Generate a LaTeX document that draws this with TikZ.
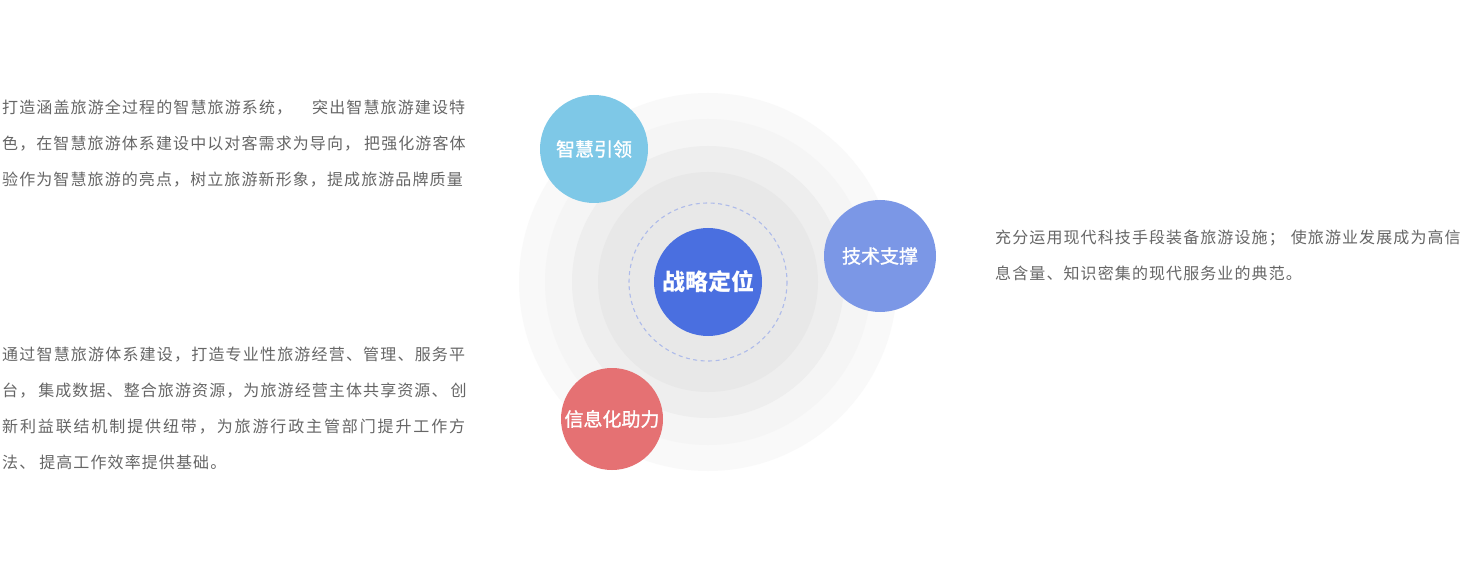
\documentclass[tikz,border=0pt]{standalone}
\usepackage{fontspec}
\newfontfamily\cjk{Noto Sans CJK SC}
\newfontfamily\cjkm[FakeBold=1.2]{Noto Sans CJK SC}
% inter-character glue for CJK text
\XeTeXinterchartokenstate=1
\newXeTeXintercharclass\cjkclass
\count255="4E00
\loop
  \XeTeXcharclass\count255=\cjkclass
  \ifnum\count255<"9FFF \advance\count255 by 1 \repeat
\XeTeXcharclass"FF0C=\cjkclass
\XeTeXcharclass"FF1B=\cjkclass
\XeTeXcharclass"3001=\cjkclass
\XeTeXcharclass"3002=\cjkclass
\newdimen\cjkgap
\cjkgap=0pt
\XeTeXinterchartoks\cjkclass\cjkclass={\hskip\cjkgap plus 1pt\relax}
\newcommand{\jline}[1]{\makebox[463pt][s]{#1}}
\newcommand{\setgap}[1]{\cjkgap=#1\relax}
\definecolor{txt}{HTML}{666666}
\definecolor{ring1}{HTML}{F9F9F9}
\definecolor{ring2}{HTML}{F5F5F5}
\definecolor{ring3}{HTML}{EEEEEE}
\definecolor{ring4}{HTML}{E8E8E8}
\definecolor{dashc}{HTML}{AEBBEA}
\definecolor{cmain}{HTML}{4A6FE0}
\definecolor{ccyan}{HTML}{7EC8E7}
\definecolor{cblue}{HTML}{7B97E6}
\definecolor{cred}{HTML}{E57173}
\tikzset{
  para/.style={anchor=north west, align=left, inner sep=0pt, text=txt,
    font={\cjk\fontsize{16}{36}\selectfont\setgap{1.1pt}}},
  bubble/.style={circle, inner sep=0pt, text=white, draw=none},
  sat/.style={bubble, font={\cjkm\fontsize{19}{19}\selectfont\setgap{0pt}}},
}
\begin{document}
\begin{tikzpicture}[x=1pt,y=-1pt]
\useasboundingbox[fill=white] (0,0) rectangle (1460,564);
% rings
\fill[ring1] (708,282) circle (189);
\fill[ring2] (708,282) circle (163);
\fill[ring3] (708,282) circle (136);
\fill[ring4] (708,282) circle (110);
\draw[dashc, line width=1.1pt, dash pattern=on 4pt off 3.5pt] (708,282) circle (79);
% bubbles
\node[bubble, fill=cmain, minimum size=108pt, font={\cjk\bfseries\fontsize{23}{23}\selectfont\setgap{0pt}}] (main) at (708,282) {战略定位};
\node[sat, fill=ccyan, minimum size=108pt] (wisdom) at (594,149) {智慧引领};
\node[sat, fill=cblue, minimum size=112pt] (tech) at (880,256) {技术支撑};
\node[sat, fill=cred, minimum size=102pt] (info) at (612,419) {信息化助力};
% texts
\node[para] (t1) at (2,100) {\jline{打造涵盖旅游全过程的智慧旅游系统，\hspace{20pt plus 1pt}突出智慧旅游建设特}\\
\jline{色，在智慧旅游体系建设中以对客需求为导向，\hspace{4pt plus 1pt}把强化游客体}\\
验作为智慧旅游的亮点，树立旅游新形象，提成旅游品牌质量};
\node[para] (t2) at (2,347) {\jline{通过智慧旅游体系建设，打造专业性旅游经营、管理、服务平}\\
\jline{台，\hspace{3pt plus 1pt}集成数据、整合旅游资源，为旅游经营主体共享资源、\hspace{3pt plus 1pt}创}\\
\jline{新利益联结机制提供纽带，为旅游行政主管部门提升工作方}\\
法、\hspace{4pt}提高工作效率提供基础。};
\node[para] (t3) at (995,230) {\jline{充分运用现代科技手段装备旅游设施；\hspace{6pt plus 1pt}使旅游业发展成为高信}\\
息含量、知识密集的现代服务业的典范。};
\end{tikzpicture}
\end{document}
